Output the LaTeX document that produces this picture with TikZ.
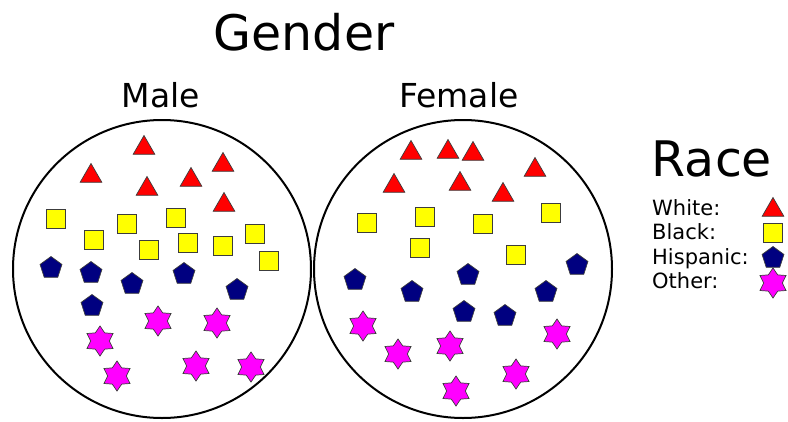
\documentclass[tikz,border=0pt]{standalone}
\usepackage{fontspec}
\setmainfont{DejaVu Sans}
\usetikzlibrary{shapes.geometric}
\definecolor{navyb}{RGB}{0,0,128}
\definecolor{magb}{RGB}{255,0,255}
\definecolor{redb}{RGB}{255,0,0}
\definecolor{yelb}{RGB}{255,255,0}
\definecolor{edgeg}{RGB}{60,60,60}
\tikzset{
  base/.style={draw=edgeg, line width=0.7pt, inner sep=0pt, outer sep=0pt},
  tri/.style={base, regular polygon, regular polygon sides=3, minimum size=25pt, fill=redb},
  sq/.style={base, rectangle, minimum size=19pt, fill=yelb},
  pent/.style={base, regular polygon, regular polygon sides=5, minimum size=23pt, fill=navyb},
  starb/.style={base, star, star points=6, star point ratio=1.6, minimum size=30pt, fill=magb},
  group/.style={circle, draw=black, line width=2pt, minimum size=298pt, inner sep=0pt},
  bigtitle/.style={font=\fontsize{49}{55}\selectfont, anchor=base, inner sep=0pt},
  subtitle/.style={font=\fontsize{33}{38}\selectfont, anchor=base, inner sep=0pt},
  legtext/.style={font=\fontsize{21}{24}\selectfont, anchor=base west, inner sep=0pt},
}
\begin{document}
\begin{tikzpicture}[x=1pt, y=-1pt]
\useasboundingbox (0,0) rectangle (788,421);
% titles
\node[bigtitle] (gender) at (304,50) {Gender};
\node[subtitle] (male) at (161,107) {Male};
\node[subtitle] (female) at (459,107) {Female};
\node[bigtitle] (race) at (712,176) {Race};
% circles
\node[group] (mc) at (162,269) {};
\node[group] (fc) at (463,269) {};
% male shapes
\node[tri] (mt1) at (144,148) {};
\node[tri] (mt2) at (91,176) {};
\node[tri] (mt3) at (147,189) {};
\node[tri] (mt4) at (191,180) {};
\node[tri] (mt5) at (223,165) {};
\node[tri] (mt6) at (224,205) {};
\node[sq] (ms1) at (56,219) {};
\node[sq] (ms2) at (94,240) {};
\node[sq] (ms3) at (127,224) {};
\node[sq] (ms4) at (176,218) {};
\node[sq] (ms5) at (149,250) {};
\node[sq] (ms6) at (188,243) {};
\node[sq] (ms7) at (223,246) {};
\node[sq] (ms8) at (255,234) {};
\node[sq] (ms9) at (269,261) {};
\node[pent] (mp1) at (51,268) {};
\node[pent] (mp2) at (91,273) {};
\node[pent] (mp3) at (132,284) {};
\node[pent] (mp4) at (184,274) {};
\node[pent] (mp5) at (237,290) {};
\node[pent] (mp6) at (92,306) {};
\node[starb] (mx1) at (158,321) {};
\node[starb] (mx2) at (217,323) {};
\node[starb] (mx3) at (100,341) {};
\node[starb] (mx4) at (117,376) {};
\node[starb] (mx5) at (196,366) {};
\node[starb] (mx6) at (251,367) {};
% female shapes
\node[tri] (ft1) at (411,153) {};
\node[tri] (ft2) at (448,152) {};
\node[tri] (ft3) at (473,154) {};
\node[tri] (ft4) at (535,170) {};
\node[tri] (ft5) at (394,186) {};
\node[tri] (ft6) at (460,184) {};
\node[tri] (ft7) at (503,195) {};
\node[sq] (fs1) at (367,223) {};
\node[sq] (fs2) at (425,217) {};
\node[sq] (fs3) at (483,224) {};
\node[sq] (fs4) at (551,213) {};
\node[sq] (fs5) at (420,248) {};
\node[sq] (fs6) at (516,255) {};
\node[pent] (fp1) at (355,280) {};
\node[pent] (fp2) at (412,292) {};
\node[pent] (fp3) at (468,275) {};
\node[pent] (fp4) at (577,265) {};
\node[pent] (fp5) at (546,292) {};
\node[pent] (fp6) at (464,312) {};
\node[pent] (fp7) at (505,316) {};
\node[starb] (fx1) at (363,326) {};
\node[starb] (fx2) at (398,354) {};
\node[starb] (fx3) at (450,346) {};
\node[starb] (fx4) at (557,334) {};
\node[starb] (fx5) at (516,374) {};
\node[starb] (fx6) at (456,391) {};
% legend
\node[legtext] (lw) at (652,215) {White:};
\node[legtext] (lb) at (652,239.5) {Black:};
\node[legtext] (lh) at (652,264) {Hispanic:};
\node[legtext] (lo) at (652,288.5) {Other:};
\node[tri] (kt) at (773,210) {};
\node[sq] (ks) at (773,233) {};
\node[pent] (kp) at (773,258) {};
\node[starb] (kx) at (773,283) {};
\end{tikzpicture}
\end{document}
